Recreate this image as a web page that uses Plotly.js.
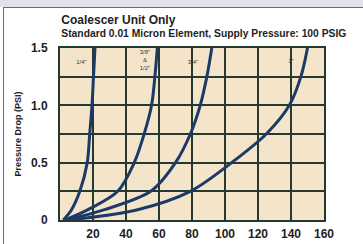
<!DOCTYPE html>
<html><head><meta charset="utf-8">
<script src="https://cdn.plot.ly/plotly-3.0.1.min.js"></script>
<style>
html,body{margin:0;padding:0;width:363px;height:244px;overflow:hidden;background:#fff;}
#band{position:absolute;left:0;top:0;width:363px;height:7px;background:#dfe2e7;}
#redTop{position:absolute;left:3px;top:7px;width:360px;height:1px;background:#e23a3a;}
#redLeft{position:absolute;left:3px;top:7px;width:1px;height:237px;background:#e23a3a;}
#chart{position:absolute;left:0;top:0;width:363px;height:244px;}
</style></head>
<body>
<div id="chart"></div>
<div id="band"></div><div id="redTop"></div><div id="redLeft"></div>
<script>
// Data
const pressureDrop = [0, 0.09, 0.25, 0.5, 0.75, 1.0, 1.25, 1.5];
const flowQuarter   = [2, 7, 12, 16.5, 18, 19.4, 20.3, 21.2];
const flowThreeEighthHalf = [3, 17, 35, 45, 51, 55.5, 57.5, 59];
const flowThreeQuarter = [4, 27, 55, 70, 79, 85, 89, 92];
const flowOne = [5, 47, 79, 104, 125, 139, 146, 150];
const seriesNames = ['1/4"', '3/8" 1/2"', '3/4"', '1"'];
const xTickVals = [20, 40, 60, 80, 100, 120, 140, 160];
const xTickText = ['20', '40', '60', '80', '100', '120', '140', '160'];
const yTickVals = [0, 0.25, 0.5, 0.75, 1.0, 1.25, 1.5];
const yTickText = ['0', '', '0.5', '', '1.0', '', '1.5'];
const labelText = ['1/4"', '3/8"', '&', '1/2"', '3/4"', '1"'];
const labelX = [13, 51.5, 51.5, 51.5, 80.6, 140];
const labelY = [1.37, 1.46, 1.39, 1.32, 1.37, 1.38];
const titleMain = 'Coalescer Unit Only';
const titleSub = 'Standard 0.01 Micron Element, Supply Pressure: 100 PSIG';

const flows = [flowQuarter, flowThreeEighthHalf, flowThreeQuarter, flowOne];
const curveColor = '#1c3a68';
const gridColor = '#26392f';
const textColor = '#1e1e1e';
const plotBg = '#f4e4ca';
const fam = 'Liberation Sans, Arial, sans-serif';

const traces = flows.map((f, i) => ({
  x: f, y: pressureDrop, name: seriesNames[i], type: 'scatter', mode: 'lines',
  line: {color: curveColor, width: 3, shape: 'spline', smoothing: 0.9},
  hoverinfo: 'skip'
}));
traces.push({
  x: labelX, y: labelY, text: labelText, type: 'scatter', mode: 'text',
  textposition: 'middle center', textfont: {family: fam, size: 6, color: '#3a3a3a'},
  hoverinfo: 'skip'
});

const layout = {
  width: 363, height: 244,
  margin: {l: 60, r: 39, t: 48, b: 24, pad: 0},
  paper_bgcolor: 'rgba(0,0,0,0)',
  plot_bgcolor: plotBg,
  showlegend: false,
  title: {
    text: '<span style="font-size:12px"><b>' + titleMain + '</b></span><br><b>' + titleSub + '</b>',
    font: {family: fam, size: 10.3, color: textColor},
    xref: 'paper', x: 0.005, xanchor: 'left',
    yref: 'container', y: 1 - 24 / 244, yanchor: 'middle'
  },
  xaxis: {
    range: [0, 160], tickmode: 'array', tickvals: xTickVals, ticktext: xTickText,
    showgrid: true, gridcolor: gridColor, gridwidth: 2,
    showline: true, linecolor: gridColor, linewidth: 2, mirror: true,
    zeroline: false, ticks: 'outside', ticklen: 2, tickcolor: 'rgba(0,0,0,0)',
    tickfont: {family: fam, size: 12, color: textColor, weight: 'bold'}
  },
  yaxis: {
    range: [0, 1.5], tickmode: 'array', tickvals: yTickVals, ticktext: yTickText,
    showgrid: true, gridcolor: gridColor, gridwidth: 2,
    showline: true, linecolor: gridColor, linewidth: 2, mirror: true,
    zeroline: false, ticks: 'outside', ticklen: 8, tickcolor: 'rgba(0,0,0,0)',
    tickfont: {family: fam, size: 12, color: textColor, weight: 'bold'},
    title: {text: '<b>Pressure Drop (PSI)</b>', font: {family: fam, size: 9, color: textColor}, standoff: 8}
  }
};

Plotly.newPlot('chart', traces, layout, {displayModeBar: false});
</script>
</body></html>
